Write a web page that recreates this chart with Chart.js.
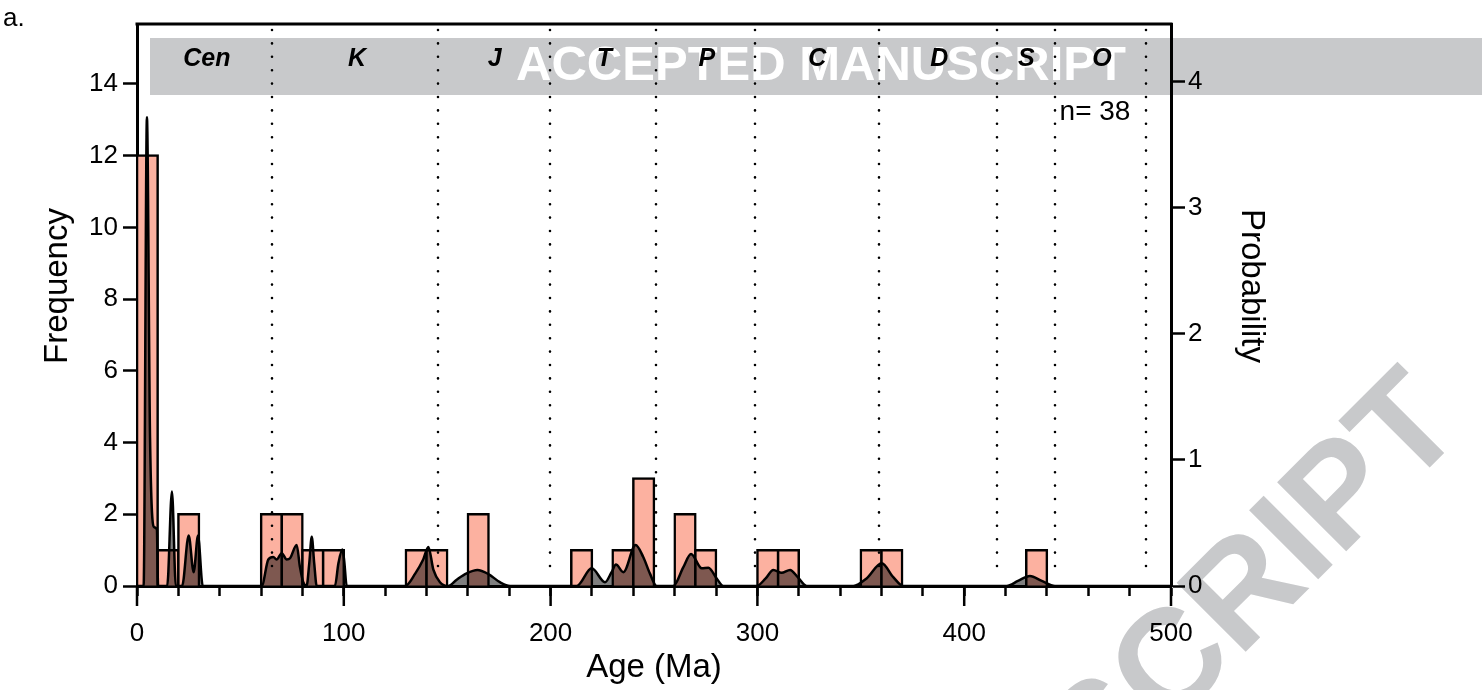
<!DOCTYPE html>
<html>
<head>
<meta charset="utf-8">
<script src="https://cdn.jsdelivr.net/npm/chart.js@4.4.0/dist/chart.umd.min.js"></script>
<style>
  html, body { margin: 0; padding: 0; background: #fff; }
  #wrap { width: 1482px; height: 690px; }
</style>
</head>
<body>
<div id="wrap"><canvas id="ageChart" width="1482" height="690"></canvas></div>
<script>
// histogram, 10 Ma bins (centres) and counts
const binCenters = [5, 15, 25, 65, 75, 85, 95, 135, 145, 165, 215, 235, 245, 265, 275, 305, 315, 355, 365, 435];
const binCounts  = [12, 1, 2, 2, 2, 1, 1, 1, 1, 2, 1, 1, 3, 2, 1, 1, 1, 1, 1, 1];

// probability density curve
const kdeAges = [0, 3.2, 4.8, 6.3, 8.1, 9.6, 10.2,
  14.6, 16.9, 18.8,
  21.8, 25.0, 27.4, 29.5, 31.8,
  60.3, 63.5, 65.9, 67.5, 70.0, 72.4, 74.0, 77.2, 78.8, 80.4, 82.0, 83.3, 84.5, 85.7, 86.9,
  95.7, 97.4, 99.3, 100.2, 101.4,
  129.6, 134.6, 138.4, 140.9, 143.3, 146.5, 150.5,
  154.6, 159.4, 164.6, 169.9, 175.5, 180.4,
  212.6, 219.9, 226.3, 229.5, 231.6, 235.2, 241.1, 244.8, 248.0, 251.3,
  259.3, 264.2, 267.9, 273.1, 276.3, 280.3, 283.5,
  299.6, 304.0, 307.7, 311.7, 315.8, 319.5, 323.8,
  346.4, 352.8, 360.1, 365.7, 370.5,
  420.5, 426.0, 431.8, 437.5, 443.9,
  500];
const kdeProb = [0, 0, 3.72, 1.18, 0.47, 0.45, 0,
  0, 0.75, 0,
  0, 0.40, 0.11, 0.40, 0,
  0, 0.21, 0.23, 0.21, 0.26, 0.21, 0.22, 0.325, 0.15, 0.03, 0, 0.18, 0.39, 0.18, 0,
  0, 0.18, 0.29, 0.20, 0,
  0, 0.10, 0.21, 0.31, 0.13, 0.03, 0,
  0.05, 0.10, 0.127, 0.095, 0.03, 0,
  0, 0.14, 0.03, 0.11, 0.17, 0.11, 0.325, 0.23, 0.10, 0,
  0, 0.15, 0.254, 0.14, 0.145, 0.06, 0,
  0, 0.06, 0.127, 0.105, 0.127, 0.07, 0,
  0, 0.06, 0.18, 0.07, 0,
  0, 0.04, 0.08, 0.04, 0,
  0];

// geological periods
const periodNames = ['Cen', 'K', 'J', 'T', 'P', 'C', 'D', 'S', 'O'];
const periodMidAges = [33.8, 106.4, 173, 226, 275.6, 329, 388, 430, 466.6];
const periodBounds = [65.5, 145.5, 199.5, 251, 299, 359, 416, 444, 488];

const xMajorTicks = [0, 100, 200, 300, 400, 500];
const sampleCount = 38;

const FONT = "'Liberation Sans', Arial, Helvetica, sans-serif";
Chart.defaults.font.family = FONT;
Chart.defaults.color = '#000';

const decor = {
  id: 'decor',
  beforeDraw(chart) {
    const c = chart.ctx, a = chart.chartArea;
    c.save();
    c.fillStyle = '#fff';
    c.fillRect(0, 0, chart.width, chart.height);
    // diagonal watermark
    c.save();
    c.translate(1440, 402);
    c.rotate(-45 * Math.PI / 180);
    c.font = 'bold 142px ' + FONT;
    c.fillStyle = '#c8c9cb';
    c.textAlign = 'right';
    c.textBaseline = 'middle';
    c.fillText('ACCEPTED MANUSCRIPT', 0, 0);
    c.restore();
    c.fillStyle = '#fff';
    c.fillRect(a.left, a.top, a.right - a.left, a.bottom - a.top);
    // band
    c.fillStyle = '#c8c9cb';
    c.fillRect(150, 38, chart.width - 150, 57);
    c.font = 'bold 49px ' + FONT;
    c.fillStyle = '#fff';
    c.textAlign = 'center';
    c.textBaseline = 'middle';
    c.fillText('ACCEPTED MANUSCRIPT', 821, 66);
    c.restore();
  },
  afterDatasetsDraw(chart) {
    const c = chart.ctx, a = chart.chartArea, x = chart.scales.x;
    c.save();
    c.strokeStyle = '#000';
    c.lineWidth = 2.6;
    c.lineCap = 'round';
    c.setLineDash([0, 13.4]);
    periodBounds.forEach(b => {
      const px = Math.round(x.getPixelForValue(b));
      c.beginPath();
      c.moveTo(px, a.top + 6);
      c.lineTo(px, a.bottom - 8);
      c.stroke();
    });
    c.restore();
  },
  afterDraw(chart) {
    const c = chart.ctx, a = chart.chartArea, x = chart.scales.x;
    c.save();
    c.fillStyle = '#000';
    c.textAlign = 'center';
    c.textBaseline = 'middle';
    c.font = 'bold italic 25px ' + FONT;
    periodNames.forEach((n, i) => c.fillText(n, x.getPixelForValue(periodMidAges[i]), 59));
    c.font = '28px ' + FONT;
    c.fillText('n= ' + sampleCount, 1095, 112);
    c.font = '26px ' + FONT;
    c.textAlign = 'left';
    c.fillText('a.', 3, 19);
    // top frame
    c.strokeStyle = '#000';
    c.lineWidth = 3;
    c.beginPath();
    c.moveTo(a.left - 1.5, a.top);
    c.lineTo(a.right + 1.5, a.top);
    c.stroke();
    // long major ticks
    c.lineWidth = 2.5;
    xMajorTicks.forEach(v => {
      const px = x.getPixelForValue(v);
      c.beginPath();
      c.moveTo(px, a.bottom);
      c.lineTo(px, a.bottom + 20);
      c.stroke();
    });
    // axis titles
    c.font = '33px ' + FONT;
    c.textAlign = 'center';
    c.fillText('Age (Ma)', (a.left + a.right) / 2, 668);
    c.save();
    c.translate(58, 286);
    c.rotate(-Math.PI / 2);
    c.fillText('Frequency', 0, 0);
    c.restore();
    c.save();
    c.translate(1251, 286);
    c.rotate(Math.PI / 2);
    c.fillText('Probability', 0, 0);
    c.restore();
    c.restore();
  }
};

const ctx = document.getElementById('ageChart').getContext('2d');
const ageChart = new Chart(ctx, {
  type: 'bar',
  data: {
    datasets: [
      {
        type: 'line',
        label: 'Probability',
        data: kdeAges.map((age, i) => ({ x: age, y: kdeProb[i] })),
        yAxisID: 'y2',
        borderColor: '#000',
        borderWidth: 2.5,
        backgroundColor: 'rgba(0,0,0,0.5)',
        fill: 'origin',
        pointRadius: 0,
        cubicInterpolationMode: 'monotone',
        order: 0
      },
      {
        type: 'bar',
        label: 'Frequency',
        data: binCenters.map((c, i) => ({ x: c, y: binCounts[i] })),
        yAxisID: 'y',
        backgroundColor: '#fcb1a0',
        borderColor: '#000',
        borderWidth: 2.5,
        inflateAmount: 1.25,
        barPercentage: 1,
        categoryPercentage: 1,
        grouped: false,
        order: 1
      }
    ]
  },
  options: {
    responsive: false,
    animation: false,
    devicePixelRatio: 1,
    layout: { padding: { top: 24, left: 0, right: 0, bottom: 0 } },
    plugins: { legend: { display: false }, tooltip: { enabled: false } },
    scales: {
      x: {
        type: 'linear', position: 'bottom', min: 0, max: 500, z: 1, offset: false,
        border: { color: '#000', width: 3 },
        grid: { offset: false, drawOnChartArea: false, tickLength: 10, tickWidth: 2.5, tickColor: '#000' },
        ticks: {
          stepSize: 20, autoSkip: false, maxRotation: 0, padding: 22,
          font: { size: 26 },
          callback: v => (v % 100 === 0 ? v : '')
        },
        afterFit: s => { s.height = 104; }
      },
      y: {
        type: 'linear', position: 'left', min: 0, max: 15.67, z: 1,
        border: { color: '#000', width: 3 },
        grid: { drawOnChartArea: false, tickLength: 14, tickWidth: 2.5, tickColor: '#000' },
        ticks: { stepSize: 2, includeBounds: false, padding: 5, font: { size: 26 } },
        afterFit: s => { s.width = 137; }
      },
      y2: {
        type: 'linear', position: 'right', min: 0, max: 4.46, z: 1,
        border: { color: '#000', width: 3 },
        grid: { drawOnChartArea: false, tickLength: 14, tickWidth: 2.5, tickColor: '#000' },
        ticks: { stepSize: 1, includeBounds: false, padding: 3, font: { size: 26 } },
        afterFit: s => { s.width = 311; }
      }
    }
  },
  plugins: [decor]
});
</script>
</body>
</html>
